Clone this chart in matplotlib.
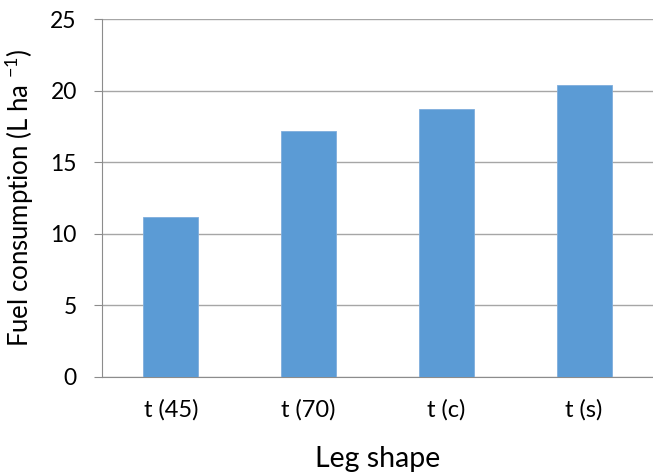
import matplotlib
matplotlib.use("Agg")
import matplotlib.pyplot as plt
import numpy as np

shapes = ["t (45)", "t (70)", "t (c)", "t (s)"]
fuel = [11.2, 17.2, 18.7, 20.4]
yticks = [0, 5, 10, 15, 20, 25]

plt.rcParams["font.family"] = ["Lato", "DejaVu Sans"]
plt.rcParams["mathtext.fontset"] = "custom"
plt.rcParams["mathtext.rm"] = "Lato"
plt.rcParams["mathtext.it"] = "Lato"

fig = plt.figure(figsize=(6.53, 4.72), dpi=100)
ax = fig.add_axes([0.156, 0.2013, 0.844, 0.7584])

x = np.arange(len(shapes))
ax.bar(x, fuel, width=0.4, color="#5B9BD5", edgecolor="#7FAEDD", linewidth=0.6, zorder=3)

ax.set_xlim(-0.5, len(shapes) - 0.5)
ax.set_ylim(0, 25)
ax.set_yticks(yticks)
ax.set_xticks(x)
ax.set_xticklabels(shapes)
ax.yaxis.grid(True, color="#A6A6A6", lw=1.0, zorder=0)

for s in ["top", "right"]:
    ax.spines[s].set_visible(False)
ax.spines["left"].set_color("#8C8C8C")
ax.spines["bottom"].set_color("#8C8C8C")
ax.tick_params(axis="y", length=6, color="#8C8C8C", labelsize=16.5, pad=12)
ax.tick_params(axis="x", length=0, labelsize=17, pad=16)

ax.set_ylabel("Fuel consumption (L ha $^{-1}$)", fontsize=18.5, labelpad=10)
ax.set_xlabel("Leg shape", fontsize=20.5, labelpad=18)

fig.savefig("out.png", dpi=100)
